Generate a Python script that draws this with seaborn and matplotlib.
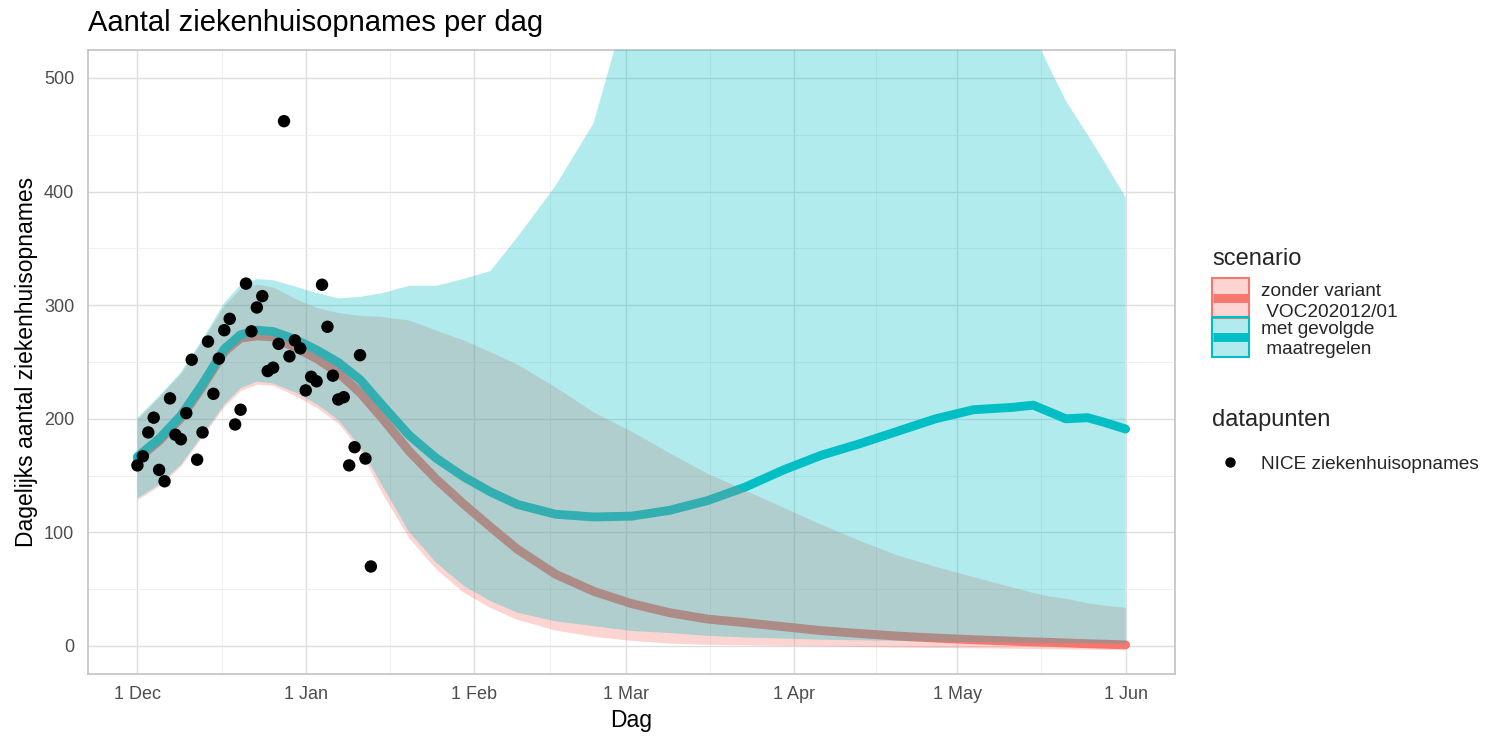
import numpy as np
import pandas as pd
import matplotlib
matplotlib.use("Agg")
import matplotlib.pyplot as plt
import matplotlib.dates as mdates
import seaborn as sns
from matplotlib.patches import Rectangle
from matplotlib.lines import Line2D

# ---------------- data ----------------
obs_start = "2020-12-01"
obs_values = [159, 167, 188, 201, 155, 145, 218, 186, 182, 205, 252, 164, 188, 268,
              222, 253, 278, 288, 195, 208, 319, 277, 298, 308, 242, 245, 266, 462,
              255, 269, 262, 225, 237, 233, 318, 281, 238, 217, 219, 159, 175, 256,
              165, 70]

model_start = "2020-12-01"
model_days = [0, 4, 8, 12, 16, 19, 22, 25, 29, 33, 37, 41, 45, 50, 55, 60, 65, 70, 77,
              84, 91, 98, 105, 112, 119, 126, 133, 140, 147, 154, 161, 165, 168, 171,
              175, 178, 182]

zonder_mid = [164.5, 180.5, 200.5, 228.5, 259, 271, 273, 272, 263, 253, 240.5, 223, 201,
              171.8, 147, 125.3, 104.9, 85.1, 63.2, 48.2, 37.3, 29.3, 23.7, 20.5, 17,
              13.5, 11, 8.7, 7, 5.5, 4.3, 3.6, 3.2, 2.7, 2, 1.6, 1]
zonder_lo = [129, 141, 158.5, 184.6, 211, 225, 230.5, 229.5, 220.5, 210, 196, 172, 135,
             95, 67.7, 47.4, 33.8, 23.3, 14, 8.5, 4.9, 2.5, 1.5, 1, 0.5, 0, -0.5, -1,
             -1.3, -1.6, -2, -2.2, -2.4, -2.6, -2.8, -3, -3]
zonder_hi = [200, 219.5, 240, 269, 300, 315, 318.5, 316, 306, 298, 293.5, 291, 290, 287,
             278, 269.5, 259, 248, 228, 206, 189, 170, 152, 137, 122, 107, 93, 80, 70,
             61, 52, 47, 44, 42, 38, 36, 34]

met_mid = [166.6, 182.4, 202.7, 230.7, 261.5, 274, 278, 276.8, 270, 260.6, 249.6, 234.5,
           212.5, 185.7, 165.4, 149.2, 135.7, 124.6, 116, 113.6, 114.3, 119.4, 128, 140,
           155, 168, 178, 189, 200, 208, 210, 212, 206, 200, 201, 197, 191]
met_lo = [130, 142, 159.5, 185.6, 212.5, 227, 232.7, 231, 223.4, 213, 199, 175.8, 142,
          100.7, 73.5, 53.3, 39.6, 29.3, 21.7, 17.5, 13.2, 11.4, 9, 7.5, 6.5, 5.5, 5,
          4.5, 4, 3.5, 3, 2.8, 2.6, 2.4, 2.2, 2.1, 2]
met_hi = [200.7, 220, 240.8, 270, 302, 318, 323, 322, 316.5, 310.8, 306, 307.3, 310.5,
          317, 317, 323, 330, 360, 405, 460, 578, 650, 700, 730, 750, 760, 760, 740,
          700, 650, 600, 540, 509, 480, 450, 427, 395]

scenario_labels = ["zonder variant\n VOC202012/01", "met gevolgde\n maatregelen"]
points_label = "NICE ziekenhuisopnames"
x_tick_dates = ["2020-12-01", "2021-01-01", "2021-02-01", "2021-03-01",
                "2021-04-01", "2021-05-01", "2021-06-01"]
y_ticks = [0, 100, 200, 300, 400, 500]
y_view = [0, 500]

title = "Aantal ziekenhuisopnames per dag"
xlabel = "Dag"
ylabel = "Dagelijks aantal ziekenhuisopnames"
legend_title_scen = "scenario"
legend_title_pts = "datapunten"

# ---------------- frames ----------------
obs_df = pd.DataFrame({
    "datum": pd.date_range(obs_start, periods=len(obs_values), freq="D"),
    "opnames": obs_values,
})
mdt = pd.Timestamp(model_start) + pd.to_timedelta(model_days, unit="D")
model_df = pd.concat([
    pd.DataFrame({"datum": mdt, "mid": zonder_mid, "lo": zonder_lo,
                  "hi": zonder_hi, "scenario": scenario_labels[0]}),
    pd.DataFrame({"datum": mdt, "mid": met_mid, "lo": met_lo,
                  "hi": met_hi, "scenario": scenario_labels[1]}),
])

RED = "#F8766D"
TEAL = "#00BFC4"
palette = {scenario_labels[0]: RED, scenario_labels[1]: TEAL}

# ---------------- style ----------------
sns.set_theme(style="whitegrid")
plt.rcParams["font.family"] = ["Liberation Sans", "DejaVu Sans"]

W, H = 1485, 736
fig = plt.figure(figsize=(W / 100, H / 100), dpi=100)
fig.patch.set_facecolor("white")
L, R, T, B = 88, 1175, 49.6, 674.4
ax = fig.add_axes([L / W, 1 - B / H, (R - L) / W, (B - T) / H])
ax.set_facecolor("white")


def fpos(x, y):
    return (x / W, 1 - y / H)


# lines (drawn first, ribbons on top like the reference)
sns.lineplot(data=model_df, x="datum", y="mid", hue="scenario", palette=palette,
             hue_order=scenario_labels, linewidth=6.4, ax=ax, legend=False,
             zorder=2)

for lab, col in zip(scenario_labels, [RED, TEAL]):
    sub = model_df[model_df["scenario"] == lab]
    ax.fill_between(sub["datum"], sub["lo"], sub["hi"], color=col, alpha=0.3,
                    linewidth=0, zorder=3)

sns.scatterplot(data=obs_df, x="datum", y="opnames", color="black", s=80,
                edgecolor="none", ax=ax, legend=False, zorder=5)

# ---------------- axes ----------------
d0 = pd.Timestamp(x_tick_dates[0])
d1 = pd.Timestamp(x_tick_dates[-1])
span = (d1 - d0) * 0.05
ax.set_xlim(d0 - span, d1 + span)
yspan = (y_view[1] - y_view[0]) * 0.05
ax.set_ylim(y_view[0] - yspan, y_view[1] + yspan)

maj = pd.to_datetime(x_tick_dates)
ax.set_xticks(maj)
ax.xaxis.set_major_formatter(mdates.DateFormatter("%-d %b"))
minor_x = [maj[i] + (maj[i + 1] - maj[i]) / 2 for i in range(len(maj) - 1)]
ax.set_xticks(minor_x, minor=True)
ax.set_yticks(y_ticks)
ax.set_yticks([v + 50 for v in y_ticks[:-1]], minor=True)

ax.grid(True, which="major", color="#DEDEDE", linewidth=1.0, zorder=0)
ax.grid(True, which="minor", color="#ECECEC", linewidth=0.6, zorder=0)
ax.set_axisbelow(True)
for s in ax.spines.values():
    s.set_visible(True)
    s.set_color("#C2C2C2")
    s.set_linewidth(1.2)

ax.tick_params(axis="both", which="major", length=4, width=1, color="#C2C2C2",
               labelsize=13, labelcolor="#4D4D4D")
ax.tick_params(axis="y", which="major", pad=6)
ax.tick_params(axis="x", which="major", pad=4)
ax.tick_params(axis="both", which="minor", length=0)

ax.set_xlabel("")
ax.set_ylabel("")
fig.text(*fpos(631.5, 720), xlabel, fontsize=16.5, ha="center", va="center",
         color="black")
fig.text(*fpos(27, 362), ylabel, fontsize=16.5, ha="center", va="center",
         rotation=90, color="black")

fig.text(*fpos(88, 31), title, fontsize=21, ha="left", va="baseline", color="black")

# ---------------- legends (ggplot style, drawn in figure pixels) ----------------
fig.text(*fpos(1212, 265), legend_title_scen, fontsize=17, ha="left", va="baseline")
key_w, key_h = 37, 39.5
key_top = 278
baselines = [[296.5, 317], [334, 354.5]]
for i, (lab, col) in enumerate(zip(scenario_labels, [RED, TEAL])):
    rgb = matplotlib.colors.to_rgb(col)
    top = key_top + i * key_h
    x0, y0 = fpos(1212, top + key_h)
    fig.add_artist(Rectangle((x0, y0), key_w / W, key_h / H, transform=fig.transFigure,
                             facecolor=(*rgb, 0.3), edgecolor=(*rgb, 1.0),
                             linewidth=1.5))
    ly = top + key_h / 2
    xa, ya = fpos(1213, ly)
    xb, _ = fpos(1248, ly)
    fig.add_artist(Line2D([xa, xb], [ya, ya], transform=fig.transFigure, color=col,
                          linewidth=6.4, solid_capstyle="butt"))
    for line_txt, bl in zip(lab.split("\n"), baselines[i]):
        fig.text(*fpos(1261, bl), line_txt, fontsize=13.7, ha="left", va="baseline")

fig.text(*fpos(1212, 426), legend_title_pts, fontsize=17, ha="left", va="baseline")
mx, my = fpos(1230, 461.5)
fig.add_artist(Line2D([mx], [my], transform=fig.transFigure, marker="o",
                      color="black", markersize=6.5, linestyle=""))
fig.text(*fpos(1261, 469), points_label, fontsize=13.7, ha="left", va="baseline")

fig.savefig("out.png", dpi=100, facecolor="white")
